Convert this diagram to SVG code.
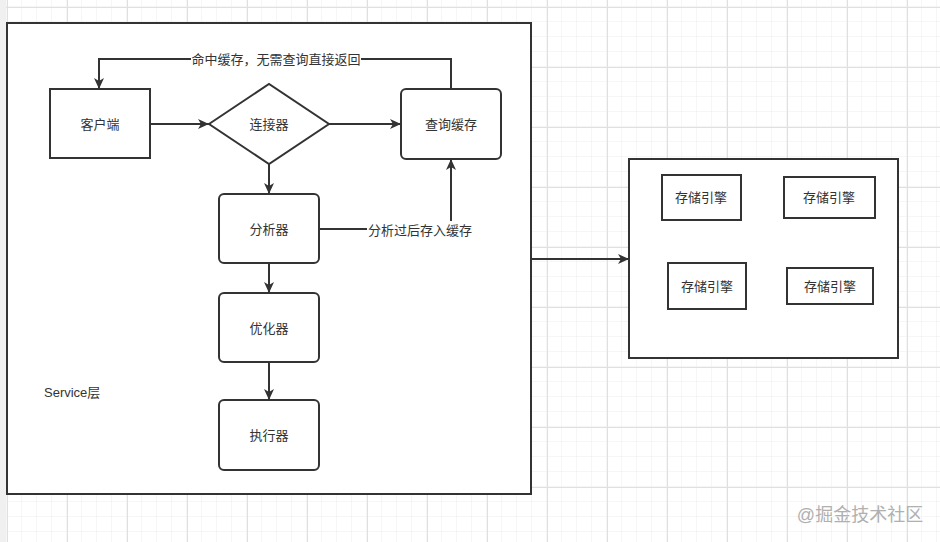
<svg xmlns="http://www.w3.org/2000/svg" width="940" height="542" viewBox="0 0 940 542">
<defs>
<pattern id="gridMinor" x="7" y="7" width="15" height="15" patternUnits="userSpaceOnUse">
<path d="M15 0 V15 M0 15 H15" fill="none" stroke="#ececec" stroke-width="1"/>
</pattern>
<pattern id="gridMajor" x="7" y="7" width="60" height="60" patternUnits="userSpaceOnUse">
<path d="M0.5 0 V60 M0 0.5 H60" fill="none" stroke="#e0e0e0" stroke-width="1"/>
</pattern>
<marker id="arr" markerWidth="12" markerHeight="10" refX="11" refY="5" orient="auto" markerUnits="userSpaceOnUse">
<path d="M0 0 L11 5 L0 10 L3 5 Z" fill="#333"/>
</marker>
<style>
.box{fill:#fff;stroke:#333;stroke-width:2}
.edge{fill:none;stroke:#333;stroke-width:2}
.lbl{font-family:"Liberation Sans","Noto Sans CJK SC",sans-serif;font-size:13px;fill:#333;text-anchor:middle;dominant-baseline:central}
.elbl{font-family:"Liberation Sans","Noto Sans CJK SC",sans-serif;font-size:13px;fill:#333;text-anchor:middle;dominant-baseline:central}
</style>
</defs>
<rect width="940" height="542" fill="#fff"/>
<rect width="940" height="542" fill="url(#gridMinor)"/>
<rect width="940" height="542" fill="url(#gridMajor)"/>
<rect x="0" y="0" width="6" height="542" fill="#f0f0f0"/>

<g id="service">
<rect class="box" x="7" y="23" width="524" height="471"/>
<text x="44" y="392" font-family="Liberation Sans,Noto Sans CJK SC,sans-serif" font-size="13" fill="#333" dominant-baseline="central">Service层</text>
</g>

<g id="client"><rect class="box" x="50" y="89" width="100" height="69"/><text class="lbl" x="100" y="124">客户端</text></g>
<g id="connector"><polygon class="box" points="209,124 269,84 329,124 269,164"/><text class="lbl" x="269" y="124">连接器</text></g>
<g id="cache"><rect class="box" x="401" y="89" width="100" height="70" rx="5"/><text class="lbl" x="451" y="124">查询缓存</text></g>
<g id="analyzer"><rect class="box" x="219" y="194" width="100" height="69" rx="5"/><text class="lbl" x="269" y="229">分析器</text></g>
<g id="optimizer"><rect class="box" x="219" y="293" width="100" height="69" rx="5"/><text class="lbl" x="269" y="328">优化器</text></g>
<g id="executor"><rect class="box" x="219" y="400" width="100" height="70" rx="5"/><text class="lbl" x="269" y="435">执行器</text></g>

<g id="storage">
<rect class="box" x="629" y="159" width="269" height="199"/>
</g>
<g id="engine1"><rect class="box" x="662" y="175" width="79" height="45"/><text class="lbl" x="701" y="197">存储引擎</text></g>
<g id="engine2"><rect class="box" x="784" y="177" width="91" height="41"/><text class="lbl" x="829" y="197">存储引擎</text></g>
<g id="engine3"><rect class="box" x="668" y="263" width="78" height="46"/><text class="lbl" x="707" y="286">存储引擎</text></g>
<g id="engine4"><rect class="box" x="787" y="268" width="86" height="36"/><text class="lbl" x="830" y="286">存储引擎</text></g>

<g id="connectors">
<path class="edge" d="M150 124 H209" marker-end="url(#arr)"/>
<path class="edge" d="M329 124 H401" marker-end="url(#arr)"/>
<path class="edge" d="M451 89 V59 H99 V89" marker-end="url(#arr)"/>
<rect x="191" y="50" width="170" height="18" fill="#fff"/>
<text class="elbl" x="276" y="59">命中缓存，无需查询直接返回</text>
<path class="edge" d="M269 164 V194" marker-end="url(#arr)"/>
<path class="edge" d="M319 229 H451 V159" marker-end="url(#arr)"/>
<rect x="367" y="221" width="107" height="18" fill="#fff"/>
<text class="elbl" x="420" y="230">分析过后存入缓存</text>
<path class="edge" d="M269 263 V293" marker-end="url(#arr)"/>
<path class="edge" d="M269 362 V400" marker-end="url(#arr)"/>
<path class="edge" d="M531 259 H629" marker-end="url(#arr)"/>
</g>

<text x="860" y="515" font-family="Liberation Sans,Noto Sans CJK SC,sans-serif" font-size="18" fill="#b0b0b0" text-anchor="middle" dominant-baseline="central">@掘金技术社区</text>
</svg>
